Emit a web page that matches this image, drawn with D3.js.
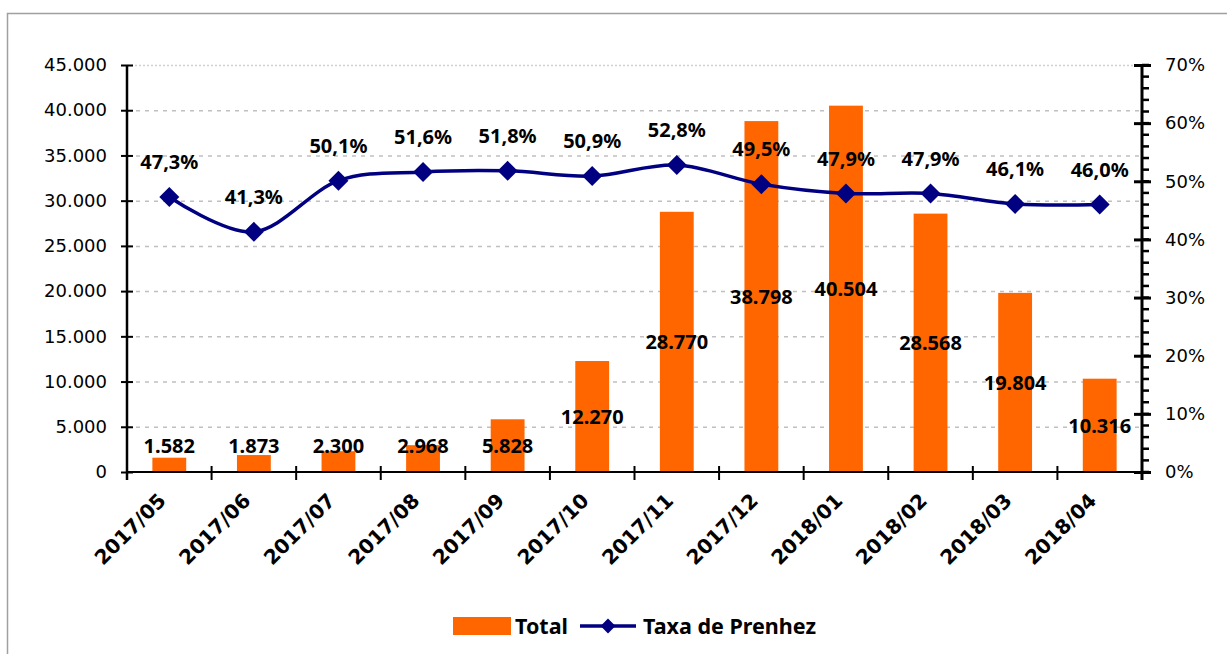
<!DOCTYPE html>
<html>
<head>
<meta charset="utf-8">
<script src="https://cdn.jsdelivr.net/npm/d3@7"></script>
<style>
  body { margin: 0; background: #fff; }
  svg { display: block; }
</style>
</head>
<body>
<script>
// dados
const months = ["2017/05", "2017/06", "2017/07", "2017/08", "2017/09", "2017/10",
  "2017/11", "2017/12", "2018/01", "2018/02", "2018/03", "2018/04"];
const totals = [1582, 1873, 2300, 2968, 5828, 12270, 28770, 38798, 40504, 28568, 19804, 10316];
const rates = [47.3, 41.3, 50.1, 51.6, 51.8, 50.9, 52.8, 49.5, 47.9, 47.9, 46.1, 46.0];
const leftTicks = [0, 5000, 10000, 15000, 20000, 25000, 30000, 35000, 40000, 45000];
const rightTicks = [0, 10, 20, 30, 40, 50, 60, 70];

const W = 1227, H = 654;
const PLOT = { L: 127, R: 1142, T: 65, B: 472 };
const ORANGE = "#ff6600", NAVY = "#000080";
const FONT = "'DejaVu Sans', Verdana, sans-serif";
const LABEL_FONT = "'Noto Sans', Tahoma, sans-serif";

const br = d3.formatLocale({ decimal: ",", thousands: ".", grouping: [3], currency: ["R$", ""] });
const fmtInt = br.format(",d");
const fmtPct = br.format(".1f");

const svg = d3.select("body").append("svg").attr("width", W).attr("height", H);

// borda da área do gráfico
svg.append("path")
  .attr("d", `M7.5,${H} V13.5 H${W}`)
  .attr("fill", "none")
  .attr("stroke", "#a0a0a0")
  .attr("stroke-width", 1.5);

const x = d3.scaleBand().domain(months).range([PLOT.L, PLOT.R]);
const y = d3.scaleLinear().domain([0, 45000]).range([PLOT.B, PLOT.T]);
const y2 = d3.scaleLinear().domain([0, 70]).range([PLOT.B, PLOT.T]);
const cx = (m) => x(m) + x.bandwidth() / 2;

// linhas de grade
svg.append("g")
  .selectAll("line")
  .data(leftTicks.filter((d) => d > 0))
  .join("line")
  .attr("x1", PLOT.L).attr("x2", PLOT.R)
  .attr("y1", (d) => y(d) + 0.5).attr("y2", (d) => y(d) + 0.5)
  .attr("stroke", (d) => (d === 45000 ? "#d0d0d0" : "#c0c0c0"))
  .attr("stroke-width", 1.5)
  .attr("stroke-dasharray", (d) => (d === 45000 ? "2,2" : "4,5"));

// barras
const barW = x.bandwidth() * 0.4;
svg.append("g")
  .selectAll("rect")
  .data(totals)
  .join("rect")
  .attr("x", (d, i) => cx(months[i]) - barW / 2)
  .attr("width", barW)
  .attr("y", (d) => y(d))
  .attr("height", (d) => y(0) - y(d))
  .attr("fill", ORANGE);

// eixo esquerdo
const leftAxis = d3.axisLeft(y).tickValues(leftTicks).tickFormat((d) => fmtInt(d))
  .tickSizeInner(6).tickSizeOuter(0).tickPadding(14);
const gl = svg.append("g").attr("transform", `translate(${PLOT.L},0)`).call(leftAxis);
gl.select(".domain").attr("stroke", "#000").attr("stroke-width", 2.5)
  .attr("d", `M0,${PLOT.T}V${PLOT.B + 8}`);
gl.selectAll(".tick line").attr("x1", 6).attr("x2", -6).attr("stroke-width", 2);
gl.selectAll(".tick text").attr("font-family", FONT).attr("font-size", 18).attr("fill", "#000");

// eixo direito com marcas menores
const gr = svg.append("g").attr("transform", `translate(${PLOT.R},0)`);
gr.selectAll("line.minor")
  .data(d3.range(0, 71, 2))
  .join("line")
  .attr("class", "minor")
  .attr("x1", 0).attr("x2", 7)
  .attr("y1", (d) => y2(d)).attr("y2", (d) => y2(d))
  .attr("stroke", "#000").attr("stroke-width", 2.5);
const rightAxis = d3.axisRight(y2).tickValues(rightTicks).tickFormat((d) => d + "%")
  .tickSizeInner(9).tickSizeOuter(0).tickPadding(14);
gr.call(rightAxis);
gr.select(".domain").attr("stroke", "#000").attr("stroke-width", 3)
  .attr("d", `M0,${PLOT.T}V${PLOT.B + 8}`);
gr.selectAll(".tick line").attr("x1", -8).attr("x2", 9).attr("stroke-width", 3);
gr.selectAll(".tick text").attr("font-family", FONT).attr("font-size", 18).attr("fill", "#000");

// eixo x
const bottom = svg.append("g").attr("transform", `translate(0,${PLOT.B})`);
bottom.append("line")
  .attr("x1", PLOT.L).attr("x2", PLOT.R)
  .attr("stroke", "#000").attr("stroke-width", 2);
bottom.selectAll("line.tick")
  .data(months.concat([null]))
  .join("line")
  .attr("class", "tick")
  .attr("x1", (d) => (d ? x(d) : PLOT.R)).attr("x2", (d) => (d ? x(d) : PLOT.R))
  .attr("y1", -6).attr("y2", 8)
  .attr("stroke", "#000").attr("stroke-width", 2);
bottom.selectAll("text")
  .data(months)
  .join("text")
  .attr("transform", (d) => `translate(${cx(d) - 12},${20}) rotate(-45)`)
  .attr("text-anchor", "end")
  .attr("dy", "0.7em")
  .attr("font-family", FONT)
  .attr("font-weight", "bold")
  .attr("font-size", 20)
  .attr("fill", "#000")
  .text((d) => d);

// linha da taxa de prenhez
const line = d3.line()
  .x((d, i) => cx(months[i]))
  .y((d) => y2(d))
  .curve(d3.curveCatmullRom.alpha(0));
svg.append("path")
  .datum(rates)
  .attr("d", line)
  .attr("fill", "none")
  .attr("stroke", NAVY)
  .attr("stroke-width", 3.5);

const diamond = d3.symbol().type(d3.symbolSquare).size(200);
svg.append("g")
  .selectAll("path")
  .data(rates)
  .join("path")
  .attr("d", diamond)
  .attr("transform", (d, i) => `translate(${cx(months[i])},${y2(d)}) rotate(45)`)
  .attr("fill", NAVY);

// rótulos dos valores
svg.append("g")
  .selectAll("text")
  .data(totals)
  .join("text")
  .attr("x", (d, i) => cx(months[i]))
  .attr("y", (d) => Math.min((y(d) + y(0)) / 2, y(0) - 26))
  .attr("dy", "0.36em")
  .attr("text-anchor", "middle")
  .attr("font-family", LABEL_FONT)
  .attr("font-weight", "bold")
  .attr("font-size", 20)
  .attr("fill", "#000")
  .text((d) => fmtInt(d));

svg.append("g")
  .selectAll("text")
  .data(rates)
  .join("text")
  .attr("x", (d, i) => cx(months[i]))
  .attr("y", (d) => y2(d) - 35)
  .attr("dy", "0.36em")
  .attr("text-anchor", "middle")
  .attr("font-family", LABEL_FONT)
  .attr("font-weight", "bold")
  .attr("font-size", 20)
  .attr("fill", "#000")
  .text((d) => fmtPct(d) + "%");

// legenda
const legend = svg.append("g").attr("transform", "translate(453,626)");
legend.append("rect").attr("x", 0).attr("y", -9).attr("width", 58).attr("height", 18).attr("fill", ORANGE);
legend.append("text").attr("x", 62).attr("dy", "0.36em")
  .attr("font-family", LABEL_FONT).attr("font-weight", "bold").attr("font-size", 21.5)
  .text("Total");
legend.append("line").attr("x1", 127).attr("x2", 183)
  .attr("stroke", NAVY).attr("stroke-width", 3.5);
legend.append("path").attr("d", d3.symbol().type(d3.symbolSquare).size(110))
  .attr("transform", "translate(155,0) rotate(45)").attr("fill", NAVY);
legend.append("text").attr("x", 190).attr("dy", "0.36em")
  .attr("font-family", LABEL_FONT).attr("font-weight", "bold").attr("font-size", 21.5)
  .text("Taxa de Prenhez");
</script>
</body>
</html>
